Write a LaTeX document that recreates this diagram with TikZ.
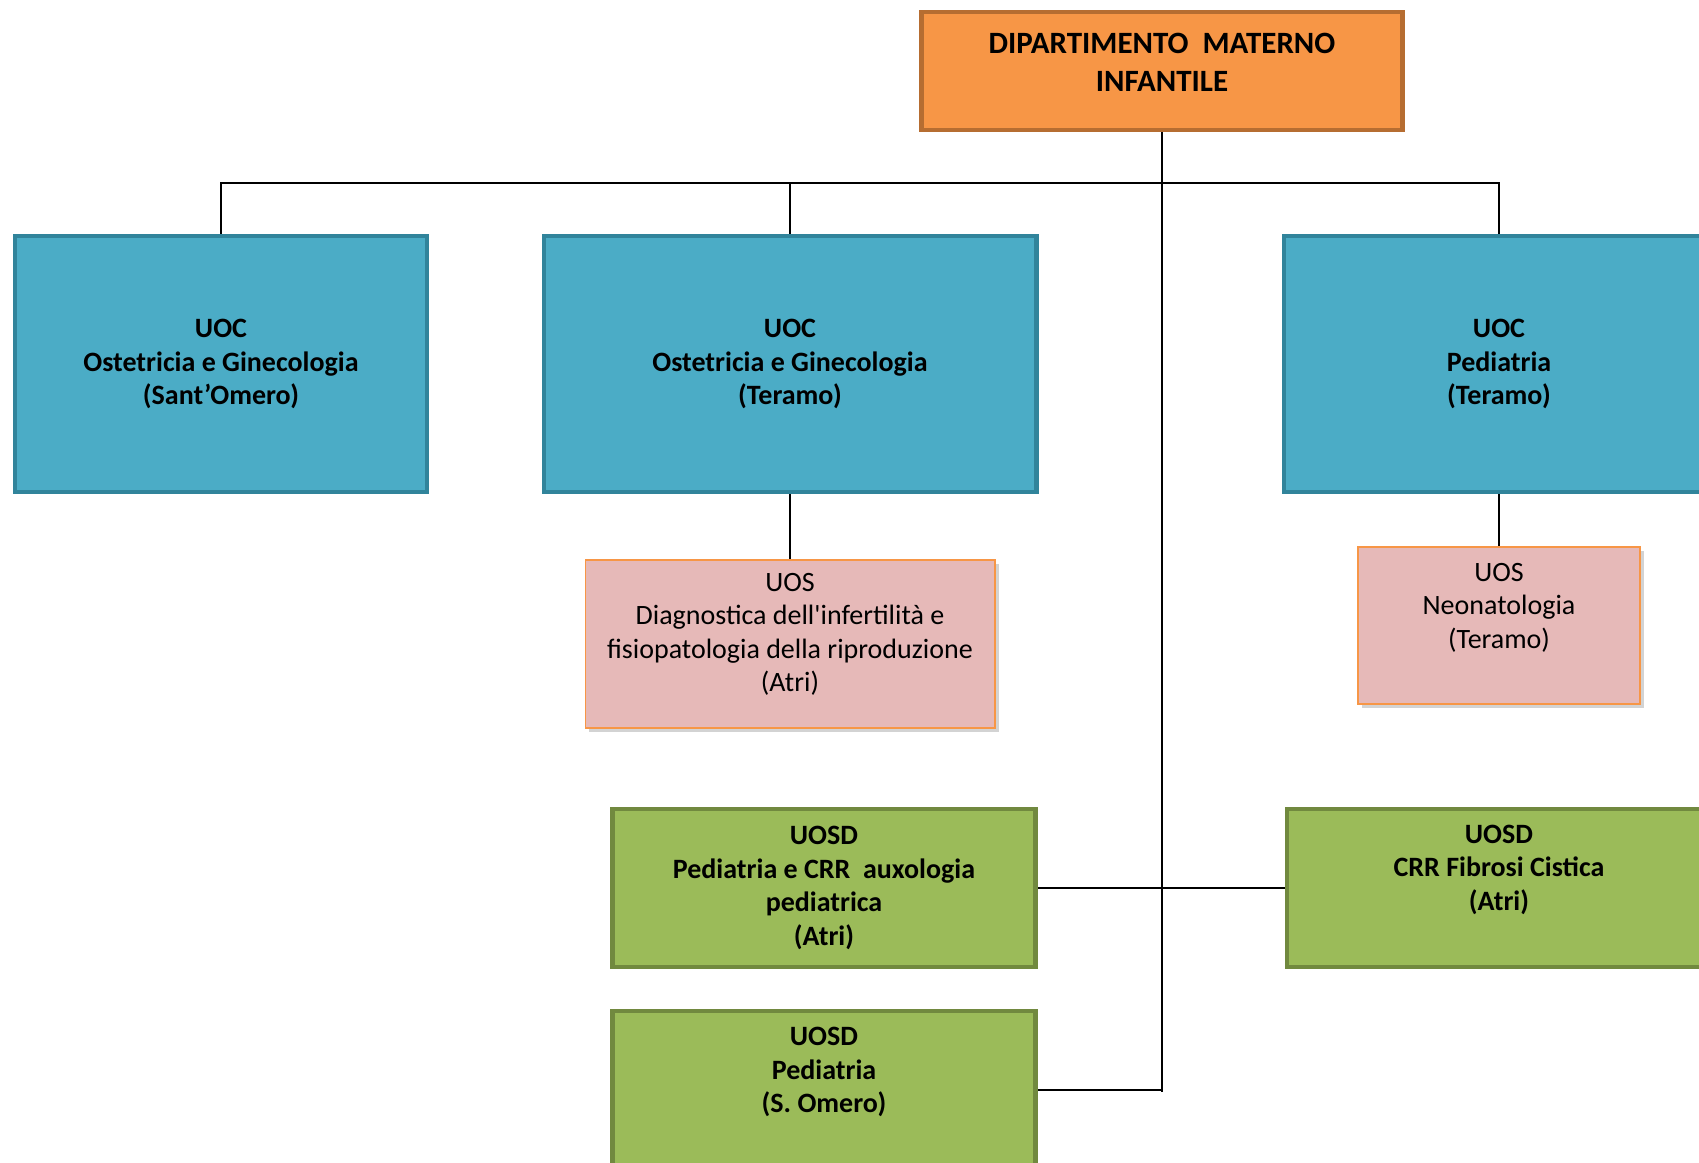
\documentclass[tikz,border=0pt]{standalone}
\usepackage{fontspec}
\setmainfont{Carlito}
\usetikzlibrary{shadows,backgrounds}
\definecolor{dipfill}{HTML}{F79646}
\definecolor{dipline}{HTML}{B66D31}
\definecolor{uocfill}{HTML}{4BACC6}
\definecolor{uocline}{HTML}{31849B}
\definecolor{uosfill}{HTML}{E6B9B8}
\definecolor{uosline}{HTML}{F79646}
\definecolor{uosdfill}{HTML}{9BBB59}
\definecolor{uosdline}{HTML}{71893F}
\begin{document}
\begin{tikzpicture}[x=0.5pt, y=-0.5pt,
    box/.style={rectangle, align=center, inner sep=0pt, font=\fontsize{14}{16.8}\selectfont\bfseries},
    dip/.style={box, draw=dipline, fill=dipfill, line width=2.2pt, minimum width=240.5pt, minimum height=58.8pt, font=\fontsize{15.5}{19}\selectfont\bfseries},
    uoc/.style={box, draw=uocline, fill=uocfill, line width=2.2pt, minimum height=127.8pt},
    uos/.style={box, draw=uosline, fill=uosfill, line width=0.8pt, font=\fontsize{14}{16.8}\selectfont, drop shadow={shadow xshift=2pt, shadow yshift=-2pt, opacity=0.35}},
    uosd/.style={box, draw=uosdline, fill=uosdfill, line width=2.2pt, minimum height=78.8pt},
    link/.style={draw=black, line width=1pt}]
    \useasboundingbox (0,0) rectangle (1699,1163);

    % Dipartimento
    \node[dip] (dip) at (1162,71) {DIPARTIMENTO\ \ MATERNO\\INFANTILE\\[-10.5pt]\mbox{}};

    % Unita operative complesse
    \node[uoc, minimum width=205.8pt] (ogsant) at (221,364) {UOC\\Ostetricia e Ginecologia\\(Sant’Omero)};
    \node[uoc, minimum width=246.3pt] (ogter) at (790,364) {UOC\\Ostetricia e Ginecologia\\(Teramo)};
    \node[uoc, minimum width=214.8pt] (pedter) at (1499,364) {UOC\\Pediatria\\(Teramo)};

    % Unita operative semplici
    \node[uos, minimum width=204.7pt, minimum height=84.2pt] (infert) at (790,644) {UOS\\Diagnostica dell\textquotesingle infertilità e\\fisiopatologia della riproduzione\\(Atri)\\[-5.3pt]\mbox{}};
    \node[uos, minimum width=141.2pt, minimum height=78.7pt] (neonat) at (1499,625.5) {UOS\\Neonatologia\\(Teramo)\\[3pt]\mbox{}};

    % Unita operative semplici dipartimentali
    \node[uosd, minimum width=211.5pt] (auxo) at (824,888) {UOSD\\Pediatria e CRR~ auxologia\\pediatrica\\(Atri)};
    \node[uosd, minimum width=211.8pt] (fibrosi) at (1499,888) {UOSD\\CRR Fibrosi Cistica\\(Atri)\\[3.5pt]\mbox{}};
    \node[uosd, minimum width=211.5pt] (pedsom) at (824,1090) {UOSD\\Pediatria\\(S. Omero)\\[3pt]\mbox{}};

    % Collegamenti
    \coordinate (bus) at (1162,183);
    \coordinate (trunkend) at (1162,1092);
    \begin{scope}[on background layer]
        \draw[link] (dip.south) -- (trunkend);
        \draw[link] (ogsant.north) |- (bus) -| (pedter.north);
        \draw[link] (ogter.north) -- (ogter.north |- bus);
        \draw[link] (ogter.south) -- (infert.north);
        \draw[link] (pedter.south) -- (neonat.north);
        \draw[link] (auxo.east) -- (fibrosi.west);
        \draw[link] (pedsom.east) -- (pedsom.east -| trunkend);
    \end{scope}
\end{tikzpicture}
\end{document}
